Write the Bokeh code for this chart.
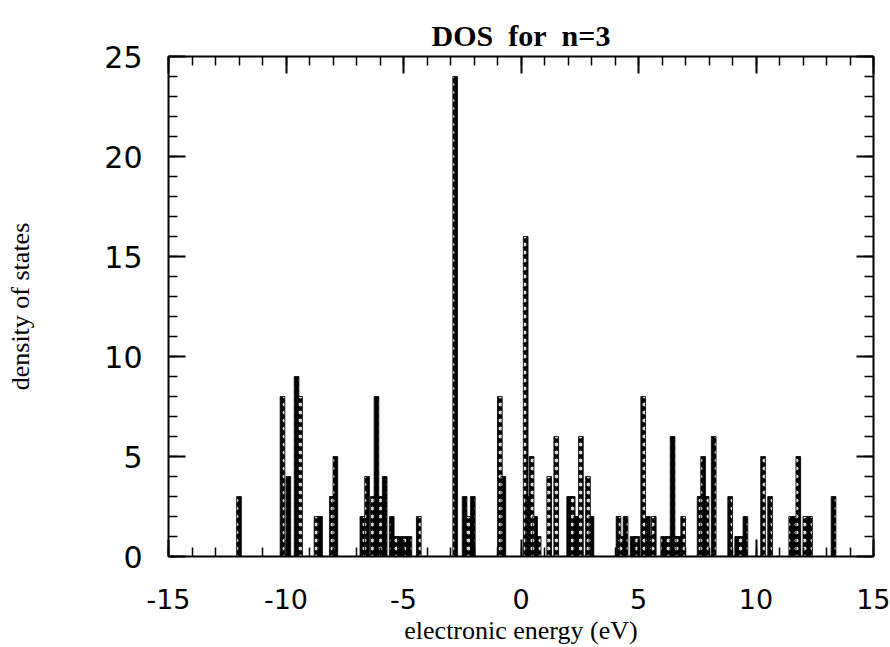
from bokeh.plotting import figure
from bokeh.models import LinearAxis, SingleIntervalTicker, Range1d, CustomJSTickFormatter
from bokeh.embed import file_html
from bokeh.resources import INLINE

energy = [-12.0, -10.15, -9.9, -9.55, -9.4, -8.7, -8.55, -8.05, -7.9,
          -6.75, -6.55, -6.3, -6.15, -5.95, -5.8, -5.5, -5.35, -5.15, -4.95, -4.75, -4.35,
          -2.8, -2.4, -2.25, -2.05, -0.9, -0.75,
          0.2, 0.3, 0.45, 0.6, 0.75, 1.2, 1.5, 2.05, 2.2, 2.35, 2.55, 2.85, 3.0,
          4.15, 4.3, 4.45, 4.75, 4.95, 5.2, 5.4, 5.55, 5.65, 6.05, 6.25, 6.45, 6.6, 6.7, 6.9,
          7.6, 7.75, 7.9, 8.2, 8.9, 9.2, 9.35, 9.55, 10.3, 10.6,
          11.5, 11.65, 11.8, 12.1, 12.3, 13.3]
dos = [3, 8, 4, 9, 8, 2, 2, 3, 5,
       2, 4, 3, 8, 3, 4, 2, 1, 1, 1, 1, 2,
       24, 3, 2, 3, 8, 4,
       16, 3, 5, 2, 1, 4, 6, 3, 3, 2, 6, 4, 2,
       2, 1, 2, 1, 1, 8, 2, 1, 2, 1, 1, 6, 1, 1, 2,
       3, 5, 3, 6, 3, 1, 1, 2, 5, 3,
       2, 2, 5, 2, 2, 3]

x_ticks = [-15, -10, -5, 0, 5, 10, 15]
y_ticks = [0, 5, 10, 15, 20, 25]

p = figure(width=890, height=647, output_backend="svg", toolbar_location=None,
           x_range=Range1d(-15, 15), y_range=Range1d(0, 25),
           min_border_left=168, min_border_right=17, min_border_top=56, min_border_bottom=87,
           x_axis_location=None, y_axis_location=None)
p.grid.visible = False
p.outline_line_color = None
p.background_fill_color = "white"

p.vbar(x=energy, top=dos, width=0.2, bottom=0, fill_color="black", line_color="black",
       line_width=0.8, hatch_pattern="dot", hatch_color="white", hatch_scale=8,
       hatch_weight=1, hatch_alpha=0.85)

def mk(loc, ticks, labels=True, fsize="27px"):
    ax = LinearAxis(ticker=SingleIntervalTicker(interval=5, num_minor_ticks=5))
    ax.axis_line_width = 2
    ax.major_tick_in = 17
    ax.major_tick_out = 0
    ax.minor_tick_in = 9
    ax.minor_tick_out = 0
    ax.major_tick_line_width = 2
    ax.minor_tick_line_width = 1.5
    if labels:
        ax.major_label_text_font = "DejaVu Sans"
        ax.major_label_text_font_size = fsize
        ax.major_label_text_color = "black"
        ax.major_label_overrides = {t: str(t) for t in ticks}
    else:
        ax.formatter = CustomJSTickFormatter(code="return ''")
        ax.major_label_standoff = 0
        ax.major_label_text_font_size = "10px"
    p.add_layout(ax, loc)
    return ax

xb = mk("below", x_ticks, True, "27px")
xb.major_label_standoff = 32
xb.axis_label = "electronic energy (eV)"
xb.axis_label_text_font = "Liberation Serif"
xb.axis_label_text_font_style = "normal"
xb.axis_label_text_font_size = "26px"
xb.axis_label_text_color = "black"
xb.axis_label_standoff = 4

yl = mk("left", y_ticks, True, "30px")
yl.major_label_standoff = 26
yl.axis_label = "density of states"
yl.axis_label_text_font = "Liberation Serif"
yl.axis_label_text_font_style = "normal"
yl.axis_label_text_font_size = "26px"
yl.axis_label_text_color = "black"
yl.axis_label_standoff = 66

mk("above", x_ticks, False)
mk("right", y_ticks, False)

p.title.text = "DOS\u00a0\u00a0for\u00a0\u00a0n=3"
p.title.text_font = "Liberation Serif"
p.title.text_font_style = "bold"
p.title.text_font_size = "30px"
p.title.text_color = "black"
p.title.align = "center"
p.title.offset = 0

open("out.html", "w").write(file_html(p, INLINE))
